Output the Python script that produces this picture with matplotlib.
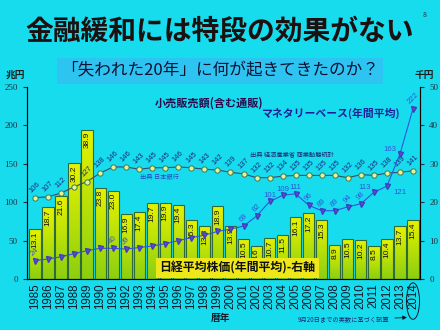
import numpy as np
import matplotlib.pyplot as plt
from matplotlib.patches import Ellipse
from matplotlib.colors import LinearSegmentedColormap

plt.rcParams['font.family'] = ['Noto Sans CJK JP', 'DejaVu Sans']

# data
years = list(range(1985, 2015))
nikkei = [13.1, 18.7, 21.6, 30.2, 38.9, 23.8, 23.0, 16.9, 17.4, 19.7,
          19.9, 19.4, 15.3, 13.8, 18.9, 13.9, 10.5, 8.6, 10.7, 11.5,
          16.1, 17.2, 15.3, 8.9, 10.5, 10.2, 8.5, 10.4, 13.7, 15.4]      # 千円
retail = [106, 107, 112, 120, 127, 138, 146, 146, 143, 145,
          145, 146, 145, 143, 142, 139, 137, 132, 132, 134,
          135, 135, 135, 135, 132, 136, 135, 138, 139, 141]              # 兆円
retail_labels = [str(v) if v != 120 else '' for v in retail]
mbase = [24, 26, 29, 33, 37, 40, 40, 39, 41, 43,
         46, 50, 54, 57, 62, 65, 69, 82, 101, 109,
         111, 96, 89, 89, 94, 98, 113, 121, 163, 222]                    # 兆円
mbase_shown = {1985, 1991, 1992, 2001, 2002, 2003, 2004, 2005, 2006, 2007,
               2008, 2009, 2010, 2011, 2012, 2013, 2014}

bg = '#17dcee'
fig = plt.figure(figsize=(4.4, 3.3), dpi=100, facecolor=bg)
ax = fig.add_axes([0.061, 0.1545, 0.894, 0.5815], facecolor=bg)
ax2 = ax.twinx()
x = np.arange(len(years))

# bars: Nikkei average (right axis) with yellow -> green gradient
cmap = LinearSegmentedColormap.from_list('yg', ['#8ccf10', '#e6f200'])
grad = np.linspace(0, 1, 64).reshape(-1, 1)
bars = ax.bar(x, nikkei, width=0.86, color='none', edgecolor='#2f6a3a', linewidth=0.8, zorder=2)
for b in bars:
    im = ax.imshow(grad, extent=[b.get_x(), b.get_x() + b.get_width(), 0, b.get_height()],
                   origin='lower', aspect='auto', cmap=cmap, zorder=1)
    im.set_clip_path(b)
for xi, v in zip(x, nikkei):
    ax.text(xi, v - 0.6, f'{v:.1f}', rotation=90, ha='center', va='top',
            fontsize=6, color='#101010', family='Liberation Sans', zorder=3)

ax.set_xlim(-0.62, 29.55)
ax.set_ylim(0, 50)
ax.yaxis.tick_right()
ax.set_yticks(range(0, 51, 10))
ax.set_xticks(x)
ax.set_xticklabels(years, rotation=90, fontsize=8.3, family='Liberation Sans', color='#101828')
ax.tick_params(axis='x', length=0, pad=3)
ax.tick_params(axis='y', labelsize=6.5, length=3, colors='#203040')
for t in ax.get_yticklabels():
    t.set_family('Liberation Serif')
ax.spines['top'].set_visible(False)
for s in ['left', 'right', 'bottom']:
    ax.spines[s].set_color('#2a4050')

# lines on left axis (兆円)
ax2.set_ylim(0, 250)
ax2.yaxis.tick_left()
ax2.set_yticks(range(0, 251, 50))
ax2.tick_params(axis='y', labelsize=6.5, length=3, colors='#203040')
for t in ax2.get_yticklabels():
    t.set_family('Liberation Serif')
ax2.spines['top'].set_visible(False)

ax2.plot(x, retail, color='#3a4a70', lw=0.8, marker='o', ms=3.8,
         mfc='#e4f29a', mec='#3f7a50', mew=0.7, zorder=4)
for xi, v, lab in zip(x, retail, retail_labels):
    ax2.annotate(lab, (xi, v), xytext=(0, 2.5), textcoords='offset points',
                 rotation=45, ha='center', va='bottom', fontsize=5.4,
                 color='#1c2a80', family='Liberation Sans')

ax2.plot(x, mbase, color='#2d55e0', lw=0.8, marker='v', ms=3.6,
         mfc='#6a48c8', mec='#3a40c0', zorder=4)
flat = {2003, 2004, 2005, 2011, 2012, 2013}
for yr, xi, v in zip(years, x, mbase):
    if yr not in mbase_shown:
        continue
    if yr == 2012:
        off, rot = (9, -7), 0
    elif yr in (2011, 2013):
        off, rot = (-7, 1), 0
    elif yr in flat:
        off, rot = (0, 2), 0
    else:
        off, rot = (0, 2), 45
    ax2.annotate(str(v), (xi, v), xytext=off, textcoords='offset points',
                 rotation=rot, ha='center', va='bottom', fontsize=5.6,
                 color='#2a5ad8', family='Liberation Sans')

# titles and notes
fig.text(0.5, 0.905, '金融緩和には特段の効果がない', ha='center', va='center',
         fontsize=20, weight='bold', color='#1c1010')
fig.text(0.5, 0.785, '「失われた20年」に何が起きてきたのか？', ha='center', va='center',
         fontsize=12, color='#101030',
         bbox=dict(boxstyle='square,pad=0.25', fc='#2ec4f2', ec='none'))
fig.text(0.034, 0.772, '兆円', ha='center', va='center', fontsize=7, weight='bold', color='#202020')
fig.text(0.965, 0.772, '千円', ha='center', va='center', fontsize=7, weight='bold', color='#202020')
fig.text(0.966, 0.955, '8', ha='center', va='center', fontsize=5, color='#303030')

fig.text(0.475, 0.688, '小売販売額(含む通販)', ha='center', va='center',
         fontsize=8, weight='bold', color='#2c0a4c')
fig.text(0.75, 0.657, 'マネタリーベース(年間平均)', ha='center', va='center',
         fontsize=7.8, weight='bold', color='#1e2098')
fig.text(0.318, 0.464, '出典 日本銀行', ha='left', va='center', fontsize=4.5, color='#2a48c0')
fig.text(0.568, 0.53, '出典 経済産業省 商業動態統計', ha='left', va='center', fontsize=4.5, color='#1e2870')
fig.text(0.54, 0.188, '日経平均株価(年間平均)-右軸', ha='center', va='center',
         fontsize=8.6, weight='bold', color='#101010',
         bbox=dict(boxstyle='square,pad=0.3', fc='#eee81a', ec='none'))
fig.text(0.5, 0.036, '暦年', ha='center', va='center', fontsize=7, weight='bold', color='#101828')

xt = ax.get_xaxis_transform()
ax.add_patch(Ellipse((29, -0.115), 1.0, 0.19, transform=xt,
                     fill=False, ec='#101828', lw=0.7, clip_on=False))
ax.annotate('9月20日までの実数に基づく試算', xy=(28.75, -0.2), xycoords=xt,
            xytext=(0.885, 0.03), textcoords='figure fraction', ha='right', va='center',
            fontsize=4.5, color='#1e2870',
            arrowprops=dict(arrowstyle='-|>', color='#101828', lw=0.6, mutation_scale=6))

fig.savefig('out.png', dpi=100, facecolor=bg)
